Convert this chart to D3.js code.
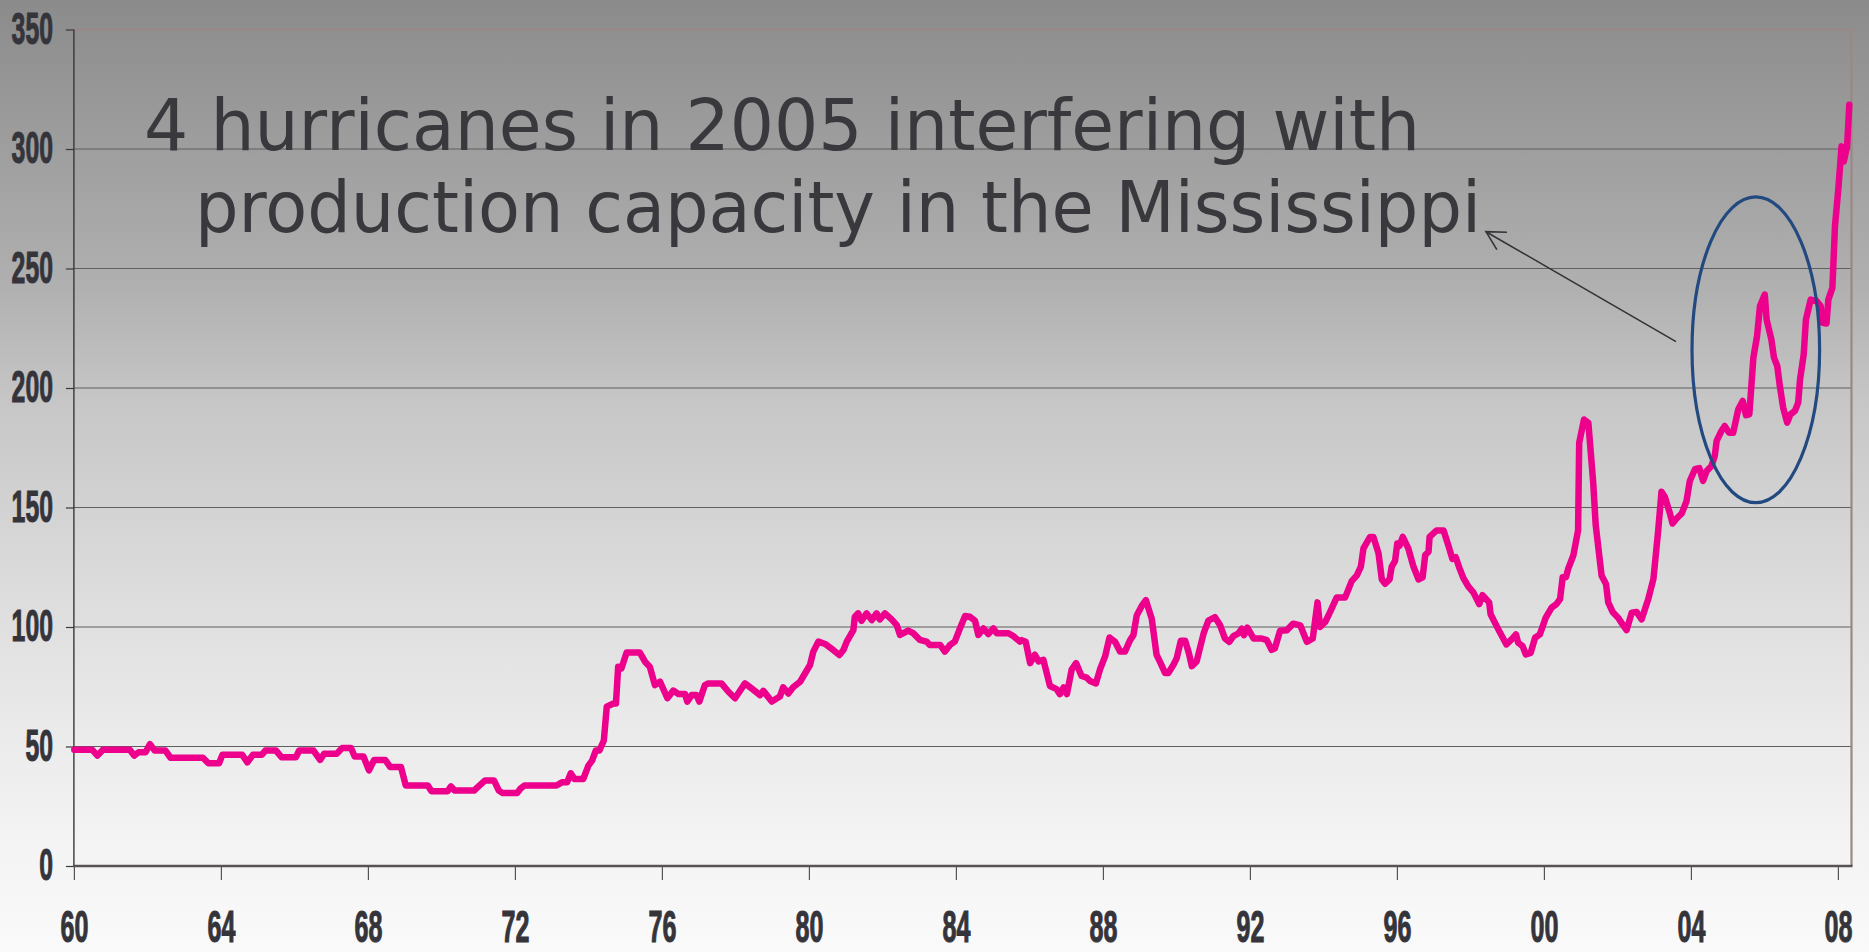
<!DOCTYPE html>
<html><head><meta charset="utf-8">
<script src="https://cdn.jsdelivr.net/npm/d3@7"></script>
<style>html,body{margin:0;padding:0;overflow:hidden;background:#f8f8f8}</style>
</head><body><svg id="c" width="1869" height="952"></svg>
<script>
// ---- data (decimal year, price index) ----
const dates = [
1960.01,1960.50,1960.64,1960.79,1961.52,1961.64,1961.76,1961.95,1962.07,1962.20,1962.49,1962.63,1963.51,1963.66,1963.95,1964.04,1964.58,1964.72,1964.87,1965.11,1965.21,1965.50,1965.65,1966.04,1966.13,1966.52,1966.70,1966.81,1967.15,1967.30,1967.54,1967.64,1967.88,1968.03,1968.17,1968.47,1968.61,1968.90,1969.03,1969.63,1969.73,1970.17,1970.26,1970.36,1970.89,1971.04,1971.19,1971.43,1971.56,1971.67,1972.06,1972.16,1972.26,1973.13,1973.28,1973.42,1973.52,1973.62,1973.86,1974.00,1974.10,1974.20,1974.30,1974.42,
1974.50,1974.68,1974.75,1974.81,1974.90,1975.04,1975.40,1975.54,1975.67,1975.81,1975.95,1976.15,1976.31,1976.45,1976.63,1976.69,1976.81,1976.94,1977.02,1977.17,1977.26,1977.62,1977.81,1977.99,1978.26,1978.44,1978.67,1978.76,1978.99,1979.21,1979.30,1979.44,1979.57,1979.76,1980.03,1980.12,1980.26,1980.44,1980.66,1980.83,1980.94,1981.03,1981.21,1981.25,1981.34,1981.43,1981.57,1981.71,1981.84,1981.93,1982.07,1982.25,1982.39,1982.48,1982.70,1982.84,1983.02,1983.20,1983.29,1983.57,1983.70,1983.84,1983.97,1984.11,1984.25,1984.38,1984.52,1984.61,1984.75,1984.88,1985.02,1985.11,1985.43,1985.56,1985.74,
1985.79,1985.90,1986.02,1986.15,1986.25,1986.38,1986.56,1986.74,1986.83,1986.93,1987.02,1987.15,1987.27,1987.42,1987.56,1987.65,1987.81,1987.92,1988.06,1988.18,1988.33,1988.47,1988.60,1988.74,1988.83,1988.92,1989.06,1989.17,1989.33,1989.46,1989.57,1989.69,1989.78,1989.92,1990.01,1990.12,1990.24,1990.34,1990.42,1990.55,1990.74,1990.87,1991.05,1991.19,1991.32,1991.44,1991.55,1991.69,1991.78,1991.84,1991.93,1992.10,1992.32,1992.46,1992.59,1992.68,1992.82,1993.00,1993.18,1993.37,1993.55,1993.71,1993.84,1993.91,1994.05,1994.18,1994.36,1994.59,1994.77,1994.91,1995.02,1995.09,1995.27,1995.36,1995.50,1995.59,1995.68,1995.80,1995.86,1995.95,1996.01,1996.07,1996.16,1996.31,1996.45,1996.59,1996.70,1996.77,1996.86,1996.89,1997.08,1997.27,
1997.40,1997.51,1997.60,1997.71,1997.80,1997.94,1998.08,1998.24,1998.33,1998.51,1998.55,1998.76,1998.98,1999.12,1999.24,1999.30,1999.42,1999.51,1999.64,1999.76,1999.89,2000.05,2000.21,2000.34,2000.44,2000.51,2000.60,2000.66,2000.80,2000.93,2000.96,2001.09,2001.21,2001.34,2001.41,2001.57,2001.69,2001.75,2001.87,2002.02,2002.14,2002.25,2002.39,2002.52,2002.66,2002.84,2002.98,2003.11,2003.20,2003.29,2003.43,2003.50,2003.61,2003.75,2003.88,2003.97,2004.11,2004.23,
2004.33,2004.43,2004.56,2004.65,2004.70,2004.83,2004.92,2005.04,2005.15,2005.29,2005.41,2005.50,2005.59,2005.70,2005.80,2005.88,2006.01,2006.06,2006.19,2006.26,2006.35,2006.42,2006.51,2006.62,2006.71,2006.83,2006.92,2006.97,2007.07,2007.13,2007.26,2007.42,2007.53,2007.58,2007.69,2007.74,2007.85,2007.92,2008.01,2008.10,2008.16,2008.25,2008.31
];
const prices = [
48.6,48.6,46.2,48.6,48.6,46.2,47.6,47.6,51.0,48.3,48.3,45.3,45.3,43.0,43.0,46.5,46.5,43.4,46.5,46.5,48.3,48.3,45.5,45.5,48.3,48.3,44.4,47.0,47.0,49.4,49.4,45.8,45.8,40.0,44.4,44.4,41.4,41.4,33.7,33.7,31.3,31.3,33.3,31.6,31.6,33.7,35.8,35.8,31.6,30.5,30.5,32.5,33.7,33.7,35.0,35.0,38.8,36.4,36.4,42.0,44.1,48.3,48.3,52.5,
66.7,68.0,68.0,83.4,82.7,89.3,89.3,85.5,83.4,75.7,77.1,70.2,73.4,72.0,72.0,68.8,71.5,71.5,68.8,75.7,76.4,76.4,72.9,70.2,76.4,74.3,71.5,73.3,68.8,70.9,74.8,72.2,74.8,77.1,84.1,89.7,93.9,92.9,90.4,88.3,90.4,93.9,98.7,104.3,105.7,102.6,105.7,102.9,105.7,103.2,105.7,103.2,100.8,96.7,98.5,97.4,94.6,93.9,92.5,92.5,89.7,92.5,93.9,99.4,104.6,104.3,102.6,96.7,99.4,97.1,99.4,97.4,97.4,96.2,93.9,
94.5,93.8,84.9,88.4,85.6,86.3,75.3,74.0,71.9,74.7,71.9,82.2,84.9,79.5,78.8,77.4,76.4,82.2,87.7,95.6,93.8,89.7,89.7,94.5,96.6,104.8,108.9,111.2,103.4,88.4,84.9,80.8,80.8,84.2,87.0,94.2,94.2,89.0,83.6,85.6,97.3,102.7,104.1,100.7,95.2,93.8,96.2,97.3,99.3,96.6,99.7,95.2,95.2,94.5,90.4,91.1,98.4,98.6,101.4,100.7,93.8,95.2,110.3,100.0,102.1,106.2,112.3,112.3,119.2,121.6,125.3,132.9,137.7,137.7,130.8,119.9,118.1,119.9,125.3,127.7,134.9,134.0,137.7,132.9,125.3,119.9,120.8,130.1,131.5,137.7,140.4,140.4,
134.1,128.5,129.2,124.3,120.8,117.0,114.5,109.6,113.3,110.3,105.3,99.0,92.7,94.8,96.9,93.4,92.0,88.5,89.2,95.5,96.9,103.9,108.1,109.6,111.7,120.8,120.8,124.3,129.9,140.4,177.0,186.8,185.4,160.8,142.6,121.5,118.0,110.3,106.3,103.9,101.1,98.7,106.0,106.3,103.2,111.7,120.1,140.4,156.6,154.5,147.5,143.3,145.4,147.5,152.6,161.1,166.0,166.5,
161.1,165.3,167.4,171.6,177.9,182.0,184.1,181.3,181.3,191.1,194.6,188.6,189.0,212.7,221.7,234.3,239.1,228.7,220.3,212.7,209.2,200.8,191.8,185.5,189.0,190.4,193.9,203.6,214.1,228.7,237.0,236.4,234.3,227.3,227.0,237.0,241.9,267.7,283.0,301.1,294.8,301.1,318.5
];
const yTicks = [0, 50, 100, 150, 200, 250, 300, 350];
const xTickYears = [1960, 1964, 1968, 1972, 1976, 1980, 1984, 1988, 1992, 1996, 2000, 2004, 2008];
const xTickLabels = ["60", "64", "68", "72", "76", "80", "84", "88", "92", "96", "00", "04", "08"];
const noteLines = ["4 hurricanes in 2005 interfering with", "production capacity in the Mississippi"];
// annotation anchors in data units
const ellipseCenter = [2005.766, 216.0];
const ellipseRadius = [1.736, 64.0];
const arrowTail = [2003.594, 219.4];
const arrowTip = [1998.424, 265.4];

// ---- layout ----
const W = 1869, H = 952;
const L = 73.9, R = 1851.5, T = 29.5, B = 866;
const svg = d3.select("#c");

const defs = svg.append("defs");
const grad = defs.append("linearGradient").attr("id", "bg").attr("x1", 0).attr("y1", 0).attr("x2", 0).attr("y2", 1);
[[0, "#8b8b8b"], [0.3, "#b0b0b0"], [0.42, "#c6c6c6"], [0.6, "#dadada"], [0.75, "#e9e9e9"], [0.88, "#f3f3f3"], [1, "#fafafa"]]
  .forEach(([o, c]) => grad.append("stop").attr("offset", o).attr("stop-color", c));
svg.append("rect").attr("width", W).attr("height", H).attr("fill", "url(#bg)");

const x = d3.scaleLinear().domain([1960, 2008.37]).range([L, R]);
const y = d3.scaleLinear().domain([0, 350]).range([B, T]);

// gridlines
svg.append("g").selectAll("line").data(yTicks.filter(v => v > 0 && v < 350)).join("line")
  .attr("x1", L).attr("x2", R).attr("y1", d => y(d)).attr("y2", d => y(d))
  .attr("stroke", "#5f5f5f").attr("stroke-width", 1.2);

// plot border top/right
svg.append("line").attr("x1", L).attr("x2", R).attr("y1", y(350)).attr("y2", y(350))
  .attr("stroke", "#9a8886").attr("stroke-width", 2.2);
svg.append("line").attr("x1", R).attr("x2", R).attr("y1", y(350)).attr("y2", B)
  .attr("stroke", "#9a8886").attr("stroke-width", 2.2);

const labelFont = "'Liberation Sans', Arial, sans-serif";

// y axis
const gy = svg.append("g").attr("transform", `translate(${L},0)`)
  .call(d3.axisLeft(y).tickValues(yTicks).tickSize(8).tickFormat(d3.format("d")));
gy.select(".domain").remove();
gy.selectAll(".tick line").attr("stroke", "#3a3a3a").attr("stroke-width", 1.2);
gy.selectAll(".tick text")
  .attr("x", null).attr("dy", null)
  .attr("transform", "translate(-21,13.5) scale(0.55,1)")
  .attr("text-anchor", "end")
  .attr("font-family", labelFont).attr("font-weight", "bold").attr("font-size", 45)
  .attr("fill", "#34343a").attr("stroke", "#34343a").attr("stroke-width", 1.1);
svg.append("line").attr("x1", L).attr("x2", L).attr("y1", y(350)).attr("y2", B)
  .attr("stroke", "#3a3636").attr("stroke-width", 1.4);

// x axis
const gx = svg.append("g").attr("transform", `translate(0,${B})`)
  .call(d3.axisBottom(x).tickValues(xTickYears).tickSize(14).tickFormat((d, i) => xTickLabels[i]));
gx.select(".domain").remove();
gx.selectAll(".tick line").attr("stroke", "#555").attr("stroke-width", 1.2);
gx.selectAll(".tick text")
  .attr("y", null).attr("dy", null)
  .attr("transform", "translate(0,76) scale(0.57,1)")
  .attr("text-anchor", "middle")
  .attr("font-family", labelFont).attr("font-weight", "bold").attr("font-size", 44)
  .attr("fill", "#34343a").attr("stroke", "#34343a").attr("stroke-width", 1.1);
svg.append("line").attr("x1", L - 1).attr("x2", R + 1).attr("y1", B).attr("y2", B)
  .attr("stroke", "#5a5252").attr("stroke-width", 2.4);

// series line
const series = dates.map((d, i) => [d, prices[i]]);
svg.append("path").datum(series)
  .attr("d", d3.line().x(d => x(d[0])).y(d => y(d[1])))
  .attr("fill", "none").attr("stroke", "#ec008c").attr("stroke-width", 6.5)
  .attr("stroke-linejoin", "round").attr("stroke-linecap", "round");

// ellipse annotation
svg.append("ellipse")
  .attr("cx", x(ellipseCenter[0])).attr("cy", y(ellipseCenter[1]))
  .attr("rx", x(ellipseCenter[0] + ellipseRadius[0]) - x(ellipseCenter[0]))
  .attr("ry", y(ellipseCenter[1] - ellipseRadius[1]) - y(ellipseCenter[1]))
  .attr("fill", "none").attr("stroke", "#234a80").attr("stroke-width", 3.2);

// arrow
const tx = x(arrowTip[0]), ty = y(arrowTip[1]);
const fx = x(arrowTail[0]), fy = y(arrowTail[1]);
svg.append("line").attr("x1", fx).attr("y1", fy).attr("x2", tx).attr("y2", ty)
  .attr("stroke", "#333338").attr("stroke-width", 1.6);
const ang = Math.atan2(fy - ty, fx - tx), aLen = 21, aSpread = 0.5;
svg.append("path")
  .attr("d", `M${tx + aLen * Math.cos(ang - aSpread)},${ty + aLen * Math.sin(ang - aSpread)}L${tx},${ty}L${tx + aLen * Math.cos(ang + aSpread)},${ty + aLen * Math.sin(ang + aSpread)}`)
  .attr("fill", "none").attr("stroke", "#333338").attr("stroke-width", 1.6);

// annotation text
const notePos = [[144, 150, 1276], [195, 232, 1286]];
svg.append("g").selectAll("text").data(noteLines).join("text")
  .attr("x", (d, i) => notePos[i][0]).attr("y", (d, i) => notePos[i][1])
  .attr("textLength", (d, i) => notePos[i][2]).attr("lengthAdjust", "spacingAndGlyphs")
  .attr("font-family", "'DejaVu Sans', Verdana, sans-serif").attr("font-size", 72)
  .attr("fill", "#38383d")
  .text(d => d);
</script>
</body></html>
